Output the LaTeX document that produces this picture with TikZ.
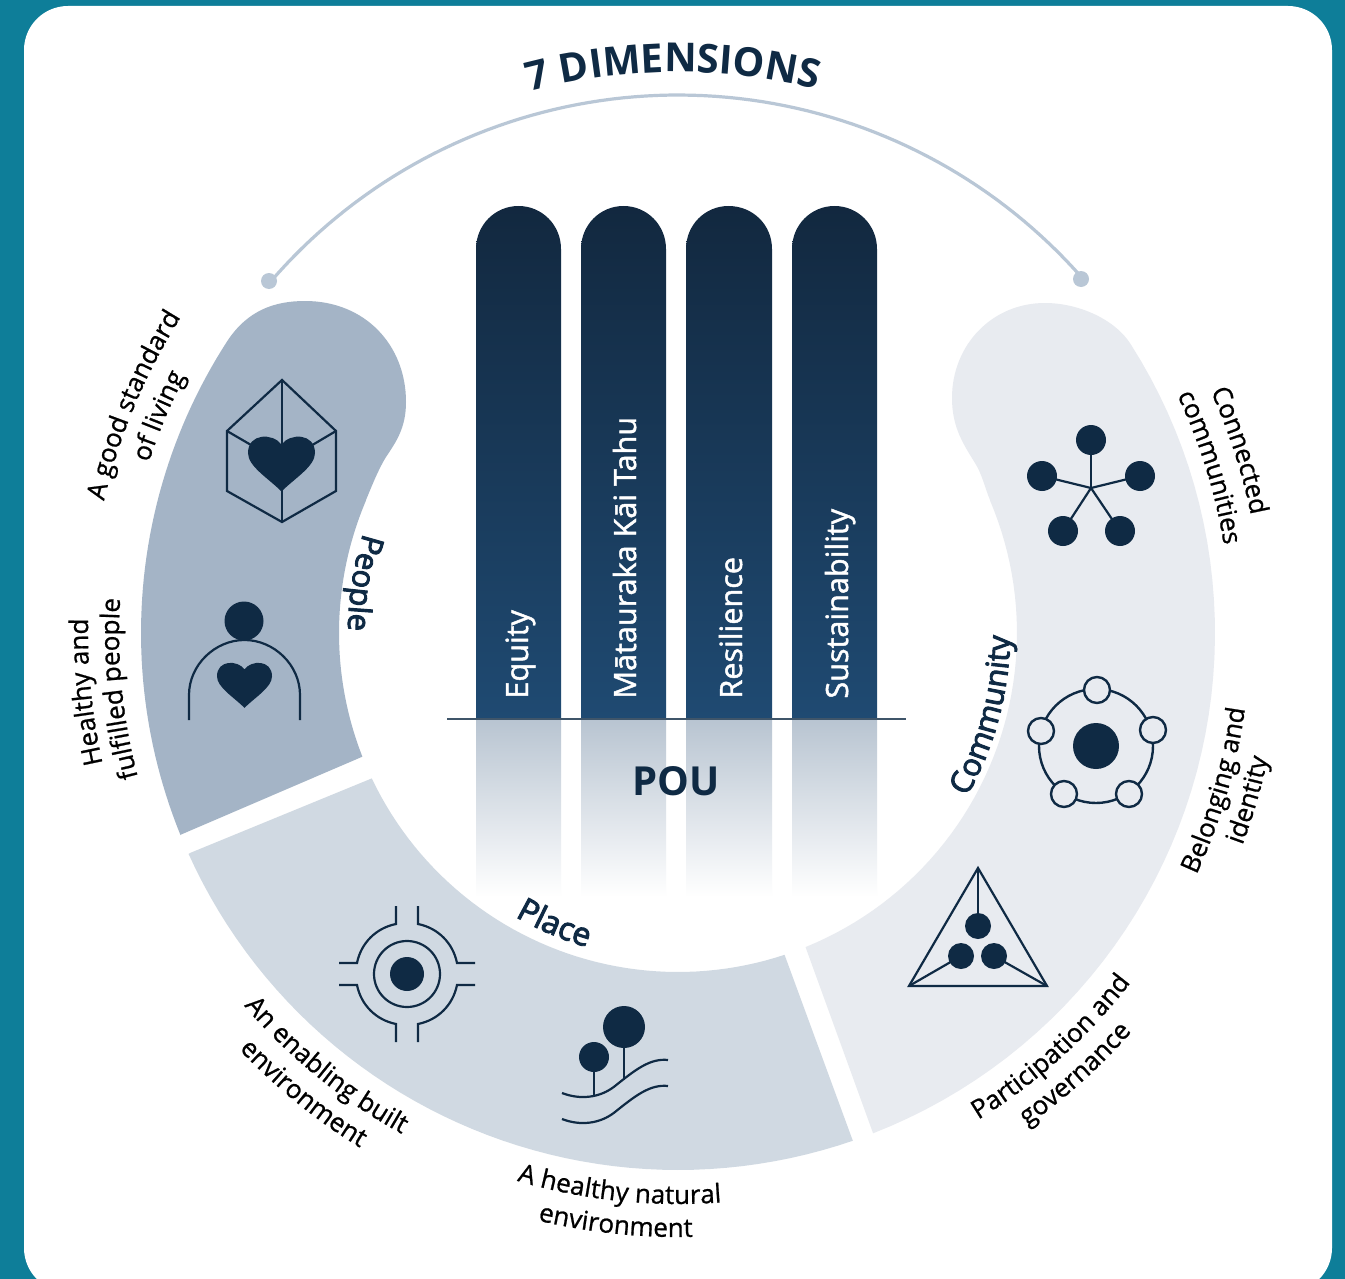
\documentclass[tikz,border=0pt]{standalone}
\usepackage{fontspec}
\setmainfont{Open Sans}
\newfontfamily\semib[FakeBold=3]{Open Sans}
\newfontfamily\medf[FakeBold=1.5]{Open Sans}
\newfontfamily\lblf[FakeBold=0.8]{Open Sans}
\usetikzlibrary{decorations.text}
\definecolor{bgteal}{HTML}{0E7E99}
\definecolor{navy}{HTML}{0F2A44}
\definecolor{peoplec}{HTML}{A4B4C6}
\definecolor{placec}{HTML}{D0D9E2}
\definecolor{commc}{HTML}{E8EBF0}
\definecolor{arcc}{HTML}{B9C7D6}
\definecolor{pilltop}{HTML}{12283F}
\definecolor{pillbot}{HTML}{1F4A72}
\definecolor{reflc}{HTML}{B8C4D1}
\newcommand{\pillar}[2]{%
  \shade[top color=pilltop,bottom color=pillbot] (#1,719) -- (#1,249) .. controls (#1,225) and ({#1+19},206) .. ({#1+42.5},206) .. controls ({#2-19},206) and (#2,225) .. (#2,249) -- (#2,719) -- cycle;
  \shade[top color=reflc,bottom color=white] (#1,719) rectangle (#2,897);}
\newcommand{\heartshape}[3]{\fill[navy,shift={(#1,#2)},scale=#3] (0,-0.55) .. controls (-0.25,-0.9) and (-1,-0.9) .. (-1,-0.3) .. controls (-1,0.1) and (-0.4,0.45) .. (0,0.85) .. controls (0.4,0.45) and (1,0.1) .. (1,-0.3) .. controls (1,-0.9) and (0.25,-0.9) .. (0,-0.55) -- cycle;}
% #1 radius, #2 start angle, #3 end angle, #4 text
\newcommand{\lbf}{\lblf\fontsize{13}{15}\selectfont}
\newcommand{\labelarc}[4]{\path[decorate,decoration={text along path,text align=center,text color=black,text={|\lbf|#4}}] plot[domain=#2:#3,samples=50] ({678+#1*cos(\x)},{633+#1*sin(\x)});}
\tikzset{
  icon/.style={draw=navy,line width=1.1pt},
  pilllabel/.style={font=\medf\fontsize{15.3}{18}\selectfont,text=white,rotate=90,anchor=base west,inner sep=0pt},
  arctext/.style={decorate,decoration={text along path,text align=center,text color=navy,text={#1}}}
}
\begin{document}
\begin{tikzpicture}[x=0.5pt,y=-0.5pt]
\useasboundingbox (0,0) rectangle (1345,1279);
\fill[bgteal] (0,0) rectangle (1345,1279);
\fill[white,rounded corners=22pt] (24,6) rectangle (1332,1292);

% ring segments
\fill[peoplec] (180,835) -- plot[domain=157.9:213,samples=50] ({678+537*cos(\x)},{633+537*sin(\x)}) .. controls (248,310) and (275,301) .. (305,301) .. controls (365,301) and (406,345) .. (406,402) .. controls (406,428) and (396,442) .. (386,457) .. controls (378,470) and (371,488) .. (366,500) -- plot[domain=203:158.6,samples=50] ({678+339*cos(\x)},{633+339*sin(\x)}) -- cycle;
\fill[placec] (190,853) -- plot[domain=155.7:71,samples=50] ({678+537*cos(\x)},{633+537*sin(\x)}) -- (785,956) -- plot[domain=71.7:154.6,samples=50] ({678+339*cos(\x)},{633+339*sin(\x)}) -- cycle;
\fill[commc] (873,1133) -- plot[domain=68.7:-32.5,samples=50] ({678+537*cos(\x)},{633+537*sin(\x)}) .. controls (1115,319) and (1078,303) .. (1045,303) .. controls (992,303) and (952,345) .. (952,398) .. controls (952,428) and (964,445) .. (975,463) .. controls (982,474) and (985,488) .. (990,500) -- plot[domain=-23:67.9,samples=50] ({678+339*cos(\x)},{633+339*sin(\x)}) -- cycle;

% top arc
\draw[arcc,line width=1.6pt] plot[domain=220.7:318.7,samples=80] ({678+538*cos(\x)},{633+538*sin(\x)});
\fill[arcc] (269,281) circle[radius=8];
\fill[arcc] (1081,279) circle[radius=8];
\path[arctext={|\bfseries\fontsize{20}{24}\selectfont|7 DIMENSIONS}] plot[domain=240:299,samples=50] ({678+561*cos(\x)},{633+561*sin(\x)});

% pillars
\pillar{476}{561}
\pillar{581}{666}
\pillar{686}{772}
\pillar{792}{877}
\draw[color=navy!80,line width=0.75pt] (447,719) -- (906,719);
\node[pilllabel] (equity) at (528,699) {Equity};
\node[pilllabel] (mat) at (636,699) {Mātauraka Kāi Tahu};
\node[pilllabel] (res) at (742,699) {Resilience};
\node[pilllabel] (sus) at (848,699) {Sustainability};
\node[font=\bfseries\fontsize{20}{24}\selectfont,text=navy,inner sep=0pt] (pou) at (676,781) {POU};

% segment titles
\path[arctext={|\semib\fontsize{15.5}{18}\selectfont|People}] plot[domain=208:170,samples=40] ({678+330*cos(\x)},{633+330*sin(\x)});
\path[arctext={|\semib\fontsize{16}{18}\selectfont|Place}] plot[domain=133:93,samples=40] ({678+327*cos(\x)},{633+327*sin(\x)});
\path[arctext={|\semib\fontsize{15.5}{18}\selectfont|Community}] plot[domain=40:-10,samples=40] ({678+332*cos(\x)},{633+332*sin(\x)});

% outer labels (each line follows a circle concentric with the ring)
\labelarc{589}{172.7}{232.7}{A good standard}
\labelarc{556}{172.7}{232.7}{of living}
\labelarc{590}{144.3}{204.3}{Healthy and}
\labelarc{559}{144.3}{204.3}{fulfilled people}
\labelarc{572}{159.1}{99.1}{An enabling built}
\labelarc{605}{159.1}{99.1}{environment}
\labelarc{571}{126}{66}{A healthy natural}
\labelarc{604}{126}{66}{environment}
\labelarc{572}{78}{18}{Participation and}
\labelarc{604}{78}{18}{governance}
\labelarc{572}{46.3}{-13.7}{Belonging and}
\labelarc{603}{46.3}{-13.7}{identity}
\labelarc{585}{-48}{12}{Connected}
\labelarc{553}{-47.3}{12.7}{communities}

% cube icon
\draw[icon] (282,380) -- (336,431) -- (336,491) -- (282,522) -- (227,491) -- (227,431) -- cycle;
\draw[icon] (282,380) -- (282,522);
\draw[icon] (227,431) -- (282,463) -- (336,431);
\heartshape{281.5}{463}{33.5}

% person icon
\fill[navy] (244,621) circle[radius=19.5];
\draw[icon] (189,720) -- (189,695) .. controls (189,665) and (215,640) .. (244.5,640) .. controls (274,640) and (300,665) .. (300,695) -- (300,720);
\heartshape{244.5}{684.5}{27.5}

% target icon
\begin{scope}[shift={(407,974)}]
\foreach \sx/\sy in {1/1,-1/1,1/-1,-1/-1}{
  \draw[icon,xscale=\sx,yscale=\sy] (-11,-68) -- (-11,-50) .. controls (-31,-46) and (-46,-31) .. (-50,-11) -- (-68,-11);
}
\draw[icon] (0,0) circle[radius=33];
\fill[navy] (0,0) circle[radius=17];
\end{scope}

% tree icon
\fill[navy] (624,1027) circle[radius=21];
\fill[navy] (594,1057) circle[radius=15];
\draw[icon] (624,1040) -- (624,1080);
\draw[icon] (594,1065) -- (594,1096);
\draw[icon] (562,1093) .. controls (580,1100) and (600,1098) .. (615,1086) .. controls (635,1070) and (650,1058) .. (668,1060);
\draw[icon] (562,1119) .. controls (580,1126) and (600,1124) .. (615,1112) .. controls (635,1096) and (650,1084) .. (668,1086);

% network icon
\foreach \p in {(1091,440),(1042,476),(1140,476),(1063,531),(1120,531)}{
  \draw[icon] (1091,488) -- \p;
  \fill[navy] \p circle[radius=15];
}

% belonging icon
\draw[icon,line width=1.2pt] (1096,746) circle[radius=57];
\fill[navy] (1096,746) circle[radius=23];
\foreach \p in {(1097,690),(1041,731),(1153,730),(1064,794),(1129,794)}{
  \filldraw[icon,fill=commc,line width=1.2pt] \p circle[radius=13];
}

% triangle icon
\draw[icon,line join=miter] (978,868) -- (1047,986) -- (909,986) -- cycle;
\draw[icon] (978,868) -- (978,926);
\draw[icon] (909,986) -- (961,956);
\draw[icon] (1047,986) -- (994,956);
\foreach \p in {(978,926),(961,956),(994,956)}{
  \fill[navy] \p circle[radius=13];
}
\end{tikzpicture}
\end{document}
